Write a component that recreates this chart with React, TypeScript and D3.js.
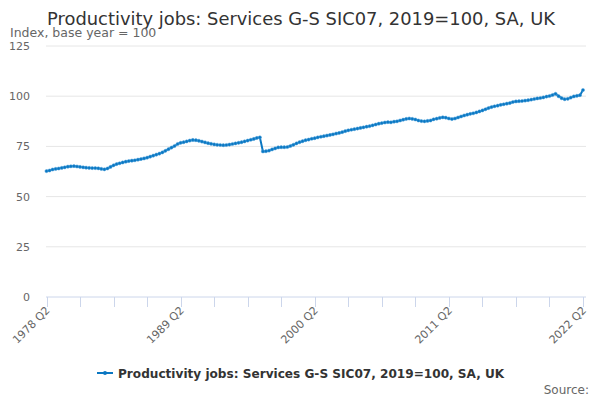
import { useEffect, useRef } from 'react'
import * as d3 from 'd3'

// Quarterly index, 1978 Q2 .. 2022 Q2
const VALUES: number[] = [
  62.7, 63.0, 63.5, 63.8, 64.0, 64.3, 64.6, 64.9, 65.1, 65.2,
  65.0, 64.8, 64.6, 64.4, 64.3, 64.2, 64.2, 64.1, 63.8, 63.6,
  64.0, 64.8, 65.6, 66.2, 66.6, 67.0, 67.4, 67.7, 67.9, 68.1,
  68.4, 68.7, 69.0, 69.4, 69.9, 70.4, 70.9, 71.4, 72.0, 72.8,
  73.6, 74.4, 75.2, 76.2, 76.8, 77.1, 77.5, 77.9, 78.2, 78.1,
  77.8, 77.4, 77.0, 76.6, 76.3, 76.0, 75.8, 75.7, 75.6, 75.7,
  75.9, 76.2, 76.5, 76.8, 77.1, 77.5, 77.9, 78.3, 78.7, 79.2,
  79.5, 72.5, 72.6, 72.9, 73.5, 74.0, 74.5, 74.6, 74.6, 74.7,
  75.2, 75.8, 76.5, 77.1, 77.6, 78.1, 78.4, 78.8, 79.1, 79.5,
  79.8, 80.1, 80.4, 80.7, 81.0, 81.4, 81.7, 82.1, 82.6, 83.0,
  83.3, 83.6, 83.9, 84.2, 84.5, 84.8, 85.1, 85.5, 85.9, 86.3,
  86.6, 86.9, 87.1, 87.0, 87.3, 87.5, 87.9, 88.3, 88.7, 88.9,
  88.7, 88.4, 87.9, 87.6, 87.5, 87.7, 87.9, 88.5, 88.8, 89.2,
  89.5, 89.3, 88.9, 88.6, 88.9, 89.4, 89.9, 90.4, 90.8, 91.2,
  91.5, 91.9, 92.4, 92.9, 93.5, 94.1, 94.6, 95.0, 95.3, 95.7,
  96.0, 96.3, 96.6, 97.1, 97.4, 97.5, 97.6, 97.8, 98.0, 98.3,
  98.6, 98.9, 99.1, 99.4, 99.8, 100.1, 100.6, 101.2, 100.0, 99.0,
  98.5, 98.7, 99.3, 99.9, 100.2, 100.5, 103.1,
]

const START_YEAR = 1978
const START_Q = 2
const QUARTERS = VALUES.map((_, i) => {
  const n = START_Q - 1 + i
  return `${START_YEAR + Math.floor(n / 4)} Q${(n % 4) + 1}`
})
const X_LABELS = ['1978 Q2', '1989 Q2', '2000 Q2', '2011 Q2', '2022 Q2']
const Y_TICKS = [0, 25, 50, 75, 100, 125]
const TICK_STEP = 11

const TITLE = 'Productivity jobs: Services G-S SIC07, 2019=100, SA, UK'
const SERIES = 'Productivity jobs: Services G-S SIC07, 2019=100, SA, UK'
const COLOR = '#0a77c2'
const FONT = '"DejaVu Sans", Verdana, sans-serif'

export default function App() {
  const ref = useRef<SVGSVGElement>(null)

  useEffect(() => {
    document.body.style.margin = '0'
    const svg = d3.select(ref.current)
    svg.selectAll('*').remove()

    const x = d3.scaleLinear().domain([0, VALUES.length - 1]).range([46.5, 583])
    const y = d3.scaleLinear().domain([0, 125]).range([297, 46])

    svg.append('rect').attr('width', 600).attr('height', 400).attr('fill', '#fff')

    // title & subtitle
    svg.append('text').attr('x', 301).attr('y', 25).attr('text-anchor', 'middle')
      .attr('font-family', FONT).attr('font-size', 17.9).attr('fill', '#333').text(TITLE)
    svg.append('text').attr('x', 10).attr('y', 37)
      .attr('font-family', FONT).attr('font-size', 12.5).attr('fill', '#666').text('Index, base year = 100')

    // grid
    Y_TICKS.filter(t => t > 0).forEach(t => {
      svg.append('line').attr('x1', 46).attr('x2', 586).attr('y1', y(t)).attr('y2', y(t))
        .attr('stroke', '#e6e6e6').attr('stroke-width', 1)
    })
    Y_TICKS.forEach(t => {
      svg.append('text').attr('x', 30).attr('y', y(t) + 4).attr('text-anchor', 'end')
        .attr('font-family', FONT).attr('font-size', 11).attr('fill', '#666').text(String(t))
    })

    // x axis
    svg.append('line').attr('x1', 46).attr('x2', 586).attr('y1', y(0)).attr('y2', y(0))
      .attr('stroke', '#ccd6eb').attr('stroke-width', 1)
    d3.range(0, VALUES.length, TICK_STEP).forEach(i => {
      const px = Math.round(x(i)) + 0.5
      svg.append('line').attr('x1', px).attr('x2', px).attr('y1', y(0)).attr('y2', y(0) + 10)
        .attr('stroke', '#ccd6eb').attr('stroke-width', 1)
      const lab = QUARTERS[i]
      if (X_LABELS.includes(lab)) {
        svg.append('text')
          .attr('transform', `translate(${x(i) + 4},${y(0) + 14}) rotate(-45)`)
          .attr('text-anchor', 'end')
          .attr('font-family', FONT).attr('font-size', 11).attr('fill', '#666').text(lab)
      }
    })

    // series
    const line = d3.line<number>().x((_, i) => x(i)).y(d => y(d))
    svg.append('path').datum(VALUES).attr('d', line).attr('fill', 'none')
      .attr('stroke', COLOR).attr('stroke-width', 2).attr('stroke-linejoin', 'round')
    svg.append('g').selectAll('circle').data(VALUES).join('circle')
      .attr('cx', (_, i) => x(i)).attr('cy', d => y(d)).attr('r', 1.6)
      .attr('fill', COLOR).attr('stroke', '#4fa3dc').attr('stroke-width', 0.5)

    // legend
    const lg = svg.append('g').attr('transform', 'translate(0,373)')
    lg.append('line').attr('x1', 97).attr('x2', 113).attr('y1', 0).attr('y2', 0)
      .attr('stroke', COLOR).attr('stroke-width', 2)
    lg.append('circle').attr('cx', 105).attr('cy', 0).attr('r', 2).attr('fill', COLOR)
    lg.append('text').attr('x', 118).attr('y', 4.5)
      .attr('font-family', FONT).attr('font-size', 12.1).attr('font-weight', 'bold')
      .attr('fill', '#333').text(SERIES)

    svg.append('text').attr('x', 589).attr('y', 394).attr('text-anchor', 'end')
      .attr('font-family', FONT).attr('font-size', 12).attr('fill', '#666').text('Source:')
  }, [])

  return <svg ref={ref} width={600} height={400} style={{ display: 'block' }} />
}
